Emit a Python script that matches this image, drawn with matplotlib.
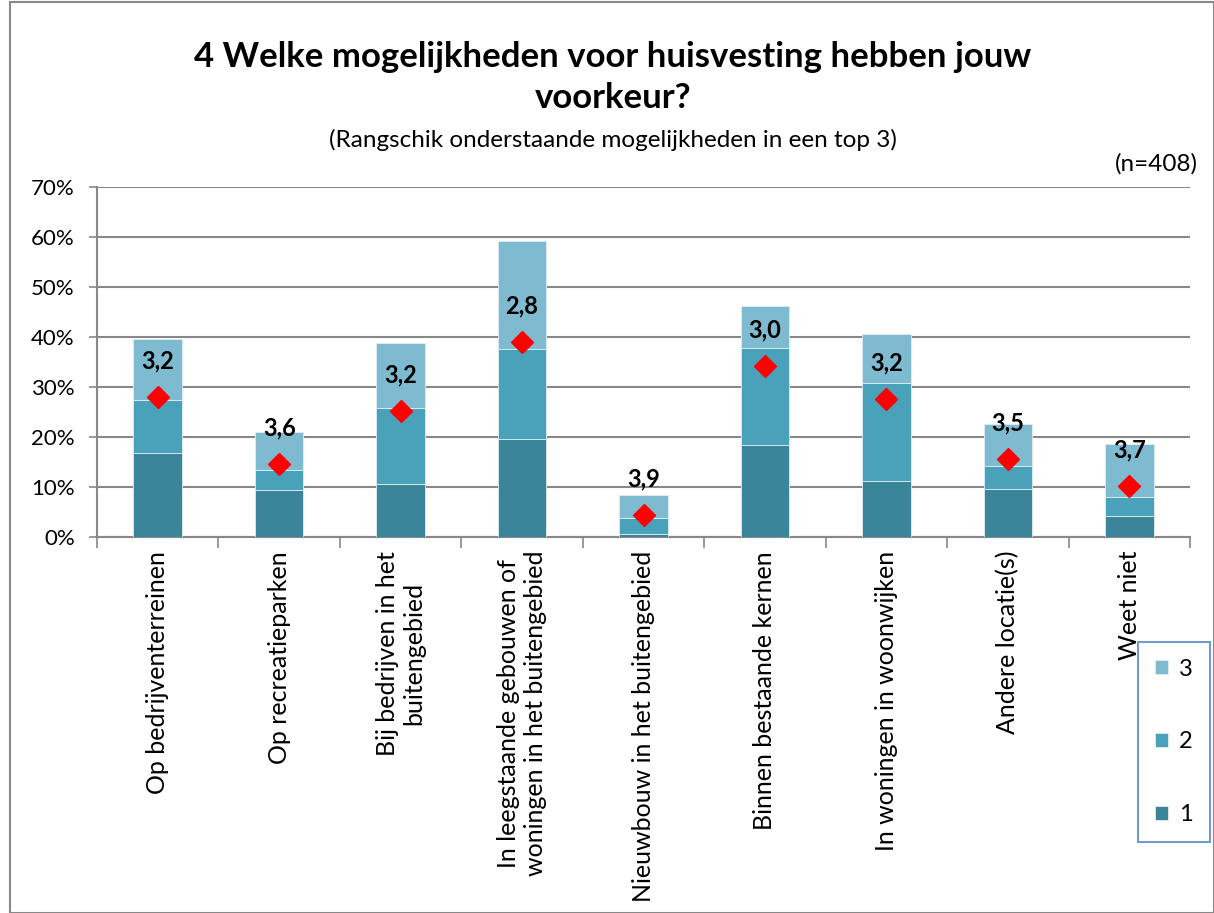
import matplotlib
matplotlib.use("Agg")
import matplotlib.pyplot as plt
from matplotlib.patches import Rectangle
from matplotlib.ticker import PercentFormatter, MultipleLocator

plt.rcParams['font.family'] = ['Lato', 'DejaVu Sans']

categories = [
    "Op bedrijventerreinen",
    "Op recreatieparken",
    "Bij bedrijven in het\nbuitengebied",
    "In leegstaande gebouwen of\nwoningen in het buitengebied",
    "Nieuwbouw in het buitengebied",
    "Binnen bestaande kernen",
    "In woningen in woonwijken",
    "Andere locatie(s)",
    "Weet niet",
]
rank1 = [16.7, 9.3, 10.5, 19.5, 0.5, 18.3, 11.1, 9.5, 4.1]
rank2 = [10.7, 4.0, 15.3, 18.0, 3.2, 19.4, 19.6, 4.6, 3.8]
rank3 = [12.2, 7.7, 12.9, 21.7, 4.6, 8.5, 9.9, 8.4, 10.7]
marker_pos = [27.9, 14.6, 25.1, 38.9, 4.3, 34.2, 27.5, 15.5, 10.2]
avg_labels = ["3,2", "3,6", "3,2", "2,8", "3,9", "3,0", "3,2", "3,5", "3,7"]

c1, c2, c3 = "#3A8599", "#4AA2BA", "#7FBBD0"

fig = plt.figure(figsize=(12.14, 9.13), dpi=100)
ax = fig.add_axes([97/1214, 1-537/913, (1190-97)/1214, 350/913])

x = list(range(len(categories)))
w = 0.4
b2 = [a for a in rank1]
b3 = [a + b for a, b in zip(rank1, rank2)]
h1 = ax.bar(x, rank1, w, color=c1, edgecolor="#dfeef3", linewidth=0.6, zorder=3, label="1")
h2 = ax.bar(x, rank2, w, bottom=b2, color=c2, edgecolor="#dfeef3", linewidth=0.6, zorder=3, label="2")
h3 = ax.bar(x, rank3, w, bottom=b3, color=c3, edgecolor="#dfeef3", linewidth=0.6, zorder=3, label="3")
ax.plot(x, marker_pos, linestyle="none", marker="D", color="#FF0000", markersize=11, zorder=4)
for xi, yi, lab in zip(x, marker_pos, avg_labels):
    ax.annotate(lab, (xi, yi), xytext=(0, 26), textcoords="offset points",
                ha="center", va="center", fontsize=17, fontweight="bold", zorder=5)

ax.set_xlim(-0.5, len(categories) - 0.5)
ax.set_ylim(0, 70)
ax.yaxis.set_major_locator(MultipleLocator(10))
ax.yaxis.set_major_formatter(PercentFormatter(decimals=0))
ax.grid(axis="y", color="#888888", linewidth=1.5, zorder=0)
ax.set_axisbelow(True)
for s in ["top", "right"]:
    ax.spines[s].set_visible(False)
for s in ["left", "bottom"]:
    ax.spines[s].set_color("#888888")
    ax.spines[s].set_linewidth(1.5)
ax.tick_params(axis="y", length=6, width=1.2, color="#888888", labelsize=16, pad=10)
ax.set_xticks([i + 0.5 for i in range(-1, len(categories))], minor=False)
ax.set_xticklabels([])
ax.tick_params(axis="x", which="major", length=8, width=1.2, color="#888888")
ax.set_xticks(x, minor=True)
ax.set_xticklabels(categories, minor=True, rotation=90, fontsize=18, ha="center", va="top",
                   multialignment="center", linespacing=1.2)
ax.tick_params(axis="x", which="minor", length=0, pad=10)

fig.text(613/1214, 1-57/913, "4 Welke mogelijkheden voor huisvesting hebben jouw",
         ha="center", va="center", fontsize=25, fontweight="bold")
fig.text(613/1214, 1-98/913, "voorkeur?", ha="center", va="center", fontsize=25, fontweight="bold")
fig.text(613/1214, 1-140/913, "(Rangschik onderstaande mogelijkheden in een top 3)",
         ha="center", va="center", fontsize=17.5)
fig.text(1198/1214, 1-164/913, "(n=408)", ha="right", va="center", fontsize=17.5)

leg = fig.legend(handles=[h3, h2, h1], labels=["3", "2", "1"], loc="upper left",
                 bbox_to_anchor=(1138/1214, 1-642/913), fontsize=17, frameon=True,
                 fancybox=False, handlelength=0.55, handleheight=0.55, handletextpad=0.5,
                 labelspacing=2.2, borderpad=0.7, borderaxespad=0)
leg.get_frame().set_edgecolor("#4F81BD")
leg.get_frame().set_linewidth(1.5)

fig.patches.append(Rectangle((10/1214, 0), 1 - 10/1214, 1 - 2/913, transform=fig.transFigure,
                             fill=False, edgecolor="#888888", linewidth=1.5))

fig.savefig("out.png", dpi=100)
